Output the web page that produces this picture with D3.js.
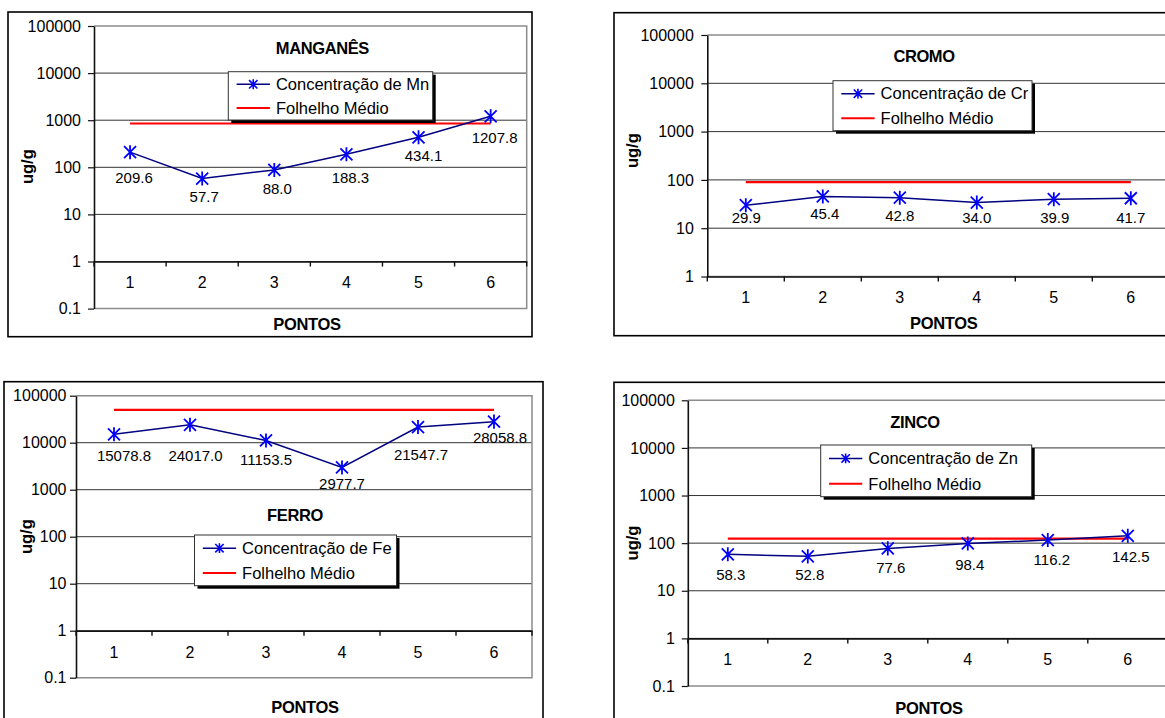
<!DOCTYPE html>
<html><head><meta charset="utf-8">
<script src="https://cdn.jsdelivr.net/npm/d3@7"></script>
<style>
html,body{margin:0;padding:0;background:#fff;}
svg{display:block;font-family:"Liberation Sans",Arial,Helvetica,sans-serif;}
</style></head><body>
<svg id="chart" width="1165" height="718"></svg>
<script>
// ---------------- data ----------------
const categories = ["1", "2", "3", "4", "5", "6"];
const mnValues = [209.6, 57.7, 88.0, 188.3, 434.1, 1207.8];
const crValues = [29.9, 45.4, 42.8, 34.0, 39.9, 41.7];
const feValues = [15078.8, 24017.0, 11153.5, 2977.7, 21547.7, 28058.8];
const znValues = [58.3, 52.8, 77.6, 98.4, 116.2, 142.5];
const shaleMn = [850, 850, 850, 850, 850, 850];
const shaleCr = [90, 90, 90, 90, 90, 90];
const shaleFe = [50000, 50000, 50000, 50000, 50000, 50000];
const shaleZn = [125, 125, 125, 125, 125, 125];
const yTicksLow = [0.1, 1, 10, 100, 1000, 10000, 100000];
const yTickLabelsLow = ["0.1", "1", "10", "100", "1000", "10000", "100000"];
const yTicksCr = [1, 10, 100, 1000, 10000, 100000];
const yTickLabelsCr = ["1", "10", "100", "1000", "10000", "100000"];
const titles = ["MANGANÊS", "CROMO", "FERRO", "ZINCO"];
const seriesNames = ["Concentração de Mn", "Concentração de Cr", "Concentração de Fe", "Concentração de Zn"];
const shaleName = "Folhelho Médio";
const xTitle = "PONTOS";
const yTitle = "ug/g";

// ---------------- layout (positions only) ----------------
const layouts = [
  { box: [8, 12, 532, 336.7], plot: [94, 26, 526.7, 308.6], title: [322.4, 48.3],
    legend: [228.3, 71.7, 204.4, 48.3], yT: [27, 166.7], xT: [307, 324], gap: 13,
    dx: [4, 2, 3, 4, 5, 4], dy: [25.5, 18.2, 18.4, 23.3, 18.7, 21.4] },
  { box: [614, 12.7, 1180, 335.7], plot: [707.3, 35, 1169.3, 276.5], title: [924, 56],
    legend: [833, 80.7, 199, 50], yT: [632, 150.7], xT: [943.8, 323.3], gap: 13.5,
    dx: [0.5, 2, 0, 0, 1, 0], dy: [12.1, 17.5, 18, 14.8, 18.1, 19.1] },
  { box: [4, 381.7, 543, 730], plot: [76, 395.7, 532, 677.7], title: [295, 515],
    legend: [194.5, 535, 202, 50.7], yT: [26, 536.7], xT: [305, 706.7], gap: 9.5,
    dx: [10, 5.5, 0, 0, 3, 6], dy: [21, 31, 19, 16.7, 27.6, 16] },
  { box: [614, 382.3, 1180, 730], plot: [687.8, 400.3, 1167.8, 686], title: [915, 421.7],
    legend: [820.7, 445, 211, 51.7], yT: [632, 543], xT: [929, 708.3], gap: 13,
    dx: [3, 2, 3, 2, 4, 3], dy: [20, 18, 19.4, 20.9, 19.3, 20.9] }
];

const panels = [
  { values: mnValues, shale: shaleMn, ticks: yTicksLow, tickLabels: yTickLabelsLow },
  { values: crValues, shale: shaleCr, ticks: yTicksCr, tickLabels: yTickLabelsCr },
  { values: feValues, shale: shaleFe, ticks: yTicksLow, tickLabels: yTickLabelsLow },
  { values: znValues, shale: shaleZn, ticks: yTicksLow, tickLabels: yTickLabelsLow }
];

const FONT = '"Liberation Sans", Arial, Helvetica, sans-serif';
const NAVY = "#000080", BLUE = "#0000ff", RED = "#ff0000";

// asterisk symbol (X with a vertical bar)
const asterisk = {
  draw(ctx, size) {
    const w = Math.sqrt(size) / 2, h = w * 1.17;
    ctx.moveTo(-w, -w); ctx.lineTo(w, w);
    ctx.moveTo(-w, w); ctx.lineTo(w, -w);
    ctx.moveTo(0, -h); ctx.lineTo(0, h);
  }
};

const svg = d3.select("#chart");
const fmt = d3.format(".1f");

panels.forEach((p, k) => {
  const L = layouts[k];
  const g = svg.append("g");
  const [px0, py0, px1, py1] = L.plot;

  // outer chart box
  g.append("rect")
    .attr("x", L.box[0]).attr("y", L.box[1])
    .attr("width", L.box[2] - L.box[0]).attr("height", L.box[3] - L.box[1])
    .attr("fill", "#fff").attr("stroke", "#000").attr("stroke-width", 1.6);

  const x = d3.scaleBand().domain(categories).range([px0, px1]);
  const cx = c => x(c) + x.bandwidth() / 2;
  const y = d3.scaleLog().domain([p.ticks[0], p.ticks[p.ticks.length - 1]]).range([py1, py0]);

  // gridlines
  g.append("g").selectAll("line").data(p.ticks.slice(1, -1)).join("line")
    .attr("x1", px0).attr("x2", px1)
    .attr("y1", d => y(d)).attr("y2", d => y(d))
    .attr("stroke", "#333").attr("stroke-width", 1);

  // plot area border (top, right, bottom)
  g.append("path")
    .attr("d", `M${px0},${y(p.ticks[p.ticks.length - 1])}H${px1}V${y(p.ticks[0])}H${px0}`)
    .attr("fill", "none").attr("stroke", "#8c8c8c").attr("stroke-width", 1.5);

  // y axis
  const yAxis = d3.axisLeft(y).tickValues(p.ticks)
    .tickFormat((d, i) => p.tickLabels[i])
    .tickSize(6).tickSizeOuter(0).tickPadding(L.gap - 6);
  const gy = g.append("g").attr("transform", `translate(${px0},0)`).call(yAxis)
    .attr("font-family", null).attr("font-size", null);
  gy.select(".domain").attr("stroke", "#111").attr("stroke-width", 1.6);
  gy.selectAll(".tick line").attr("stroke", "#111").attr("stroke-width", 1.2);
  gy.selectAll(".tick text").attr("font-family", FONT).attr("font-size", 16).attr("fill", "#000");

  // x axis (crosses at 1)
  const axisY = y(1);
  const xAxis = d3.axisBottom(x).tickSize(0).tickSizeOuter(0).tickPadding(15.6);
  const gx = g.append("g").attr("transform", `translate(0,${axisY})`).call(xAxis)
    .attr("font-family", null).attr("font-size", null);
  gx.select(".domain").attr("stroke", "#111").attr("stroke-width", 1.6);
  gx.selectAll(".tick text").attr("font-family", FONT).attr("font-size", 16).attr("fill", "#000");
  const bounds = categories.map(c => x(c)).concat([x(categories[categories.length - 1]) + x.bandwidth()]);
  g.append("g").selectAll("line").data(bounds).join("line")
    .attr("x1", d => d).attr("x2", d => d)
    .attr("y1", axisY).attr("y2", axisY + 5)
    .attr("stroke", "#111").attr("stroke-width", 1.4);

  // shale reference line
  const line = d3.line().x((d, i) => cx(categories[i])).y(d => y(d));
  g.append("path").attr("d", line(p.shale))
    .attr("fill", "none").attr("stroke", RED).attr("stroke-width", 2.2);

  // concentration series
  g.append("path").attr("d", line(p.values))
    .attr("fill", "none").attr("stroke", NAVY).attr("stroke-width", 1.5);
  const sym = d3.symbol(asterisk, 144);
  g.append("g").selectAll("path").data(p.values).join("path")
    .attr("d", sym)
    .attr("transform", (d, i) => `translate(${cx(categories[i])},${y(d)})`)
    .attr("fill", "none").attr("stroke", BLUE).attr("stroke-width", 1.8);

  // data labels
  g.append("g").selectAll("text").data(p.values).join("text")
    .attr("x", (d, i) => cx(categories[i]) + L.dx[i])
    .attr("y", (d, i) => y(d) + L.dy[i] + 0.35 * 15)
    .attr("text-anchor", "middle")
    .attr("font-family", FONT).attr("font-size", 15).attr("fill", "#000")
    .text(d => fmt(d));

  // legend
  const [lx, ly, lw, lh] = L.legend;
  g.append("rect").attr("x", lx + 3).attr("y", ly + 3).attr("width", lw).attr("height", lh).attr("fill", "#000");
  g.append("rect").attr("x", lx).attr("y", ly).attr("width", lw).attr("height", lh)
    .attr("fill", "#fff").attr("stroke", "#333").attr("stroke-width", 1);
  const r1 = ly + lh * 0.26, r2 = ly + lh * 0.75;
  const sx0 = lx + 8.3, sx1 = lx + 41.6, tx = lx + 47.6;
  g.append("line").attr("x1", sx0).attr("x2", sx1).attr("y1", r1).attr("y2", r1)
    .attr("stroke", NAVY).attr("stroke-width", 1.5);
  g.append("path").attr("d", d3.symbol(asterisk, 70)())
    .attr("transform", `translate(${(sx0 + sx1) / 2},${r1})`)
    .attr("fill", "none").attr("stroke", BLUE).attr("stroke-width", 1.6);
  g.append("line").attr("x1", sx0).attr("x2", sx1).attr("y1", r2).attr("y2", r2)
    .attr("stroke", RED).attr("stroke-width", 2);
  g.append("text").attr("x", tx).attr("y", r1 + 0.35 * 16.5)
    .attr("font-family", FONT).attr("font-size", 16.5).attr("fill", "#000")
    .text(seriesNames[k]);
  g.append("text").attr("x", tx).attr("y", r2 + 0.35 * 16.5)
    .attr("font-family", FONT).attr("font-size", 16.5).attr("fill", "#000")
    .text(shaleName);

  // titles
  g.append("text").attr("x", L.title[0]).attr("y", L.title[1] + 0.36 * 16.5)
    .attr("text-anchor", "middle").attr("font-family", FONT).attr("font-weight", "bold")
    .attr("font-size", 16.5).attr("letter-spacing", -0.4).text(titles[k]);
  g.append("text").attr("x", L.xT[0]).attr("y", L.xT[1] + 0.36 * 16.5)
    .attr("text-anchor", "middle").attr("font-family", FONT).attr("font-weight", "bold")
    .attr("font-size", 16.5).attr("letter-spacing", -0.3).text(xTitle);
  g.append("text")
    .attr("transform", `translate(${L.yT[0] + 0.36 * 16.5},${L.yT[1]}) rotate(-90)`)
    .attr("text-anchor", "middle").attr("font-family", FONT).attr("font-weight", "bold")
    .attr("font-size", 16.5).text(yTitle);
});
</script>
</body></html>
